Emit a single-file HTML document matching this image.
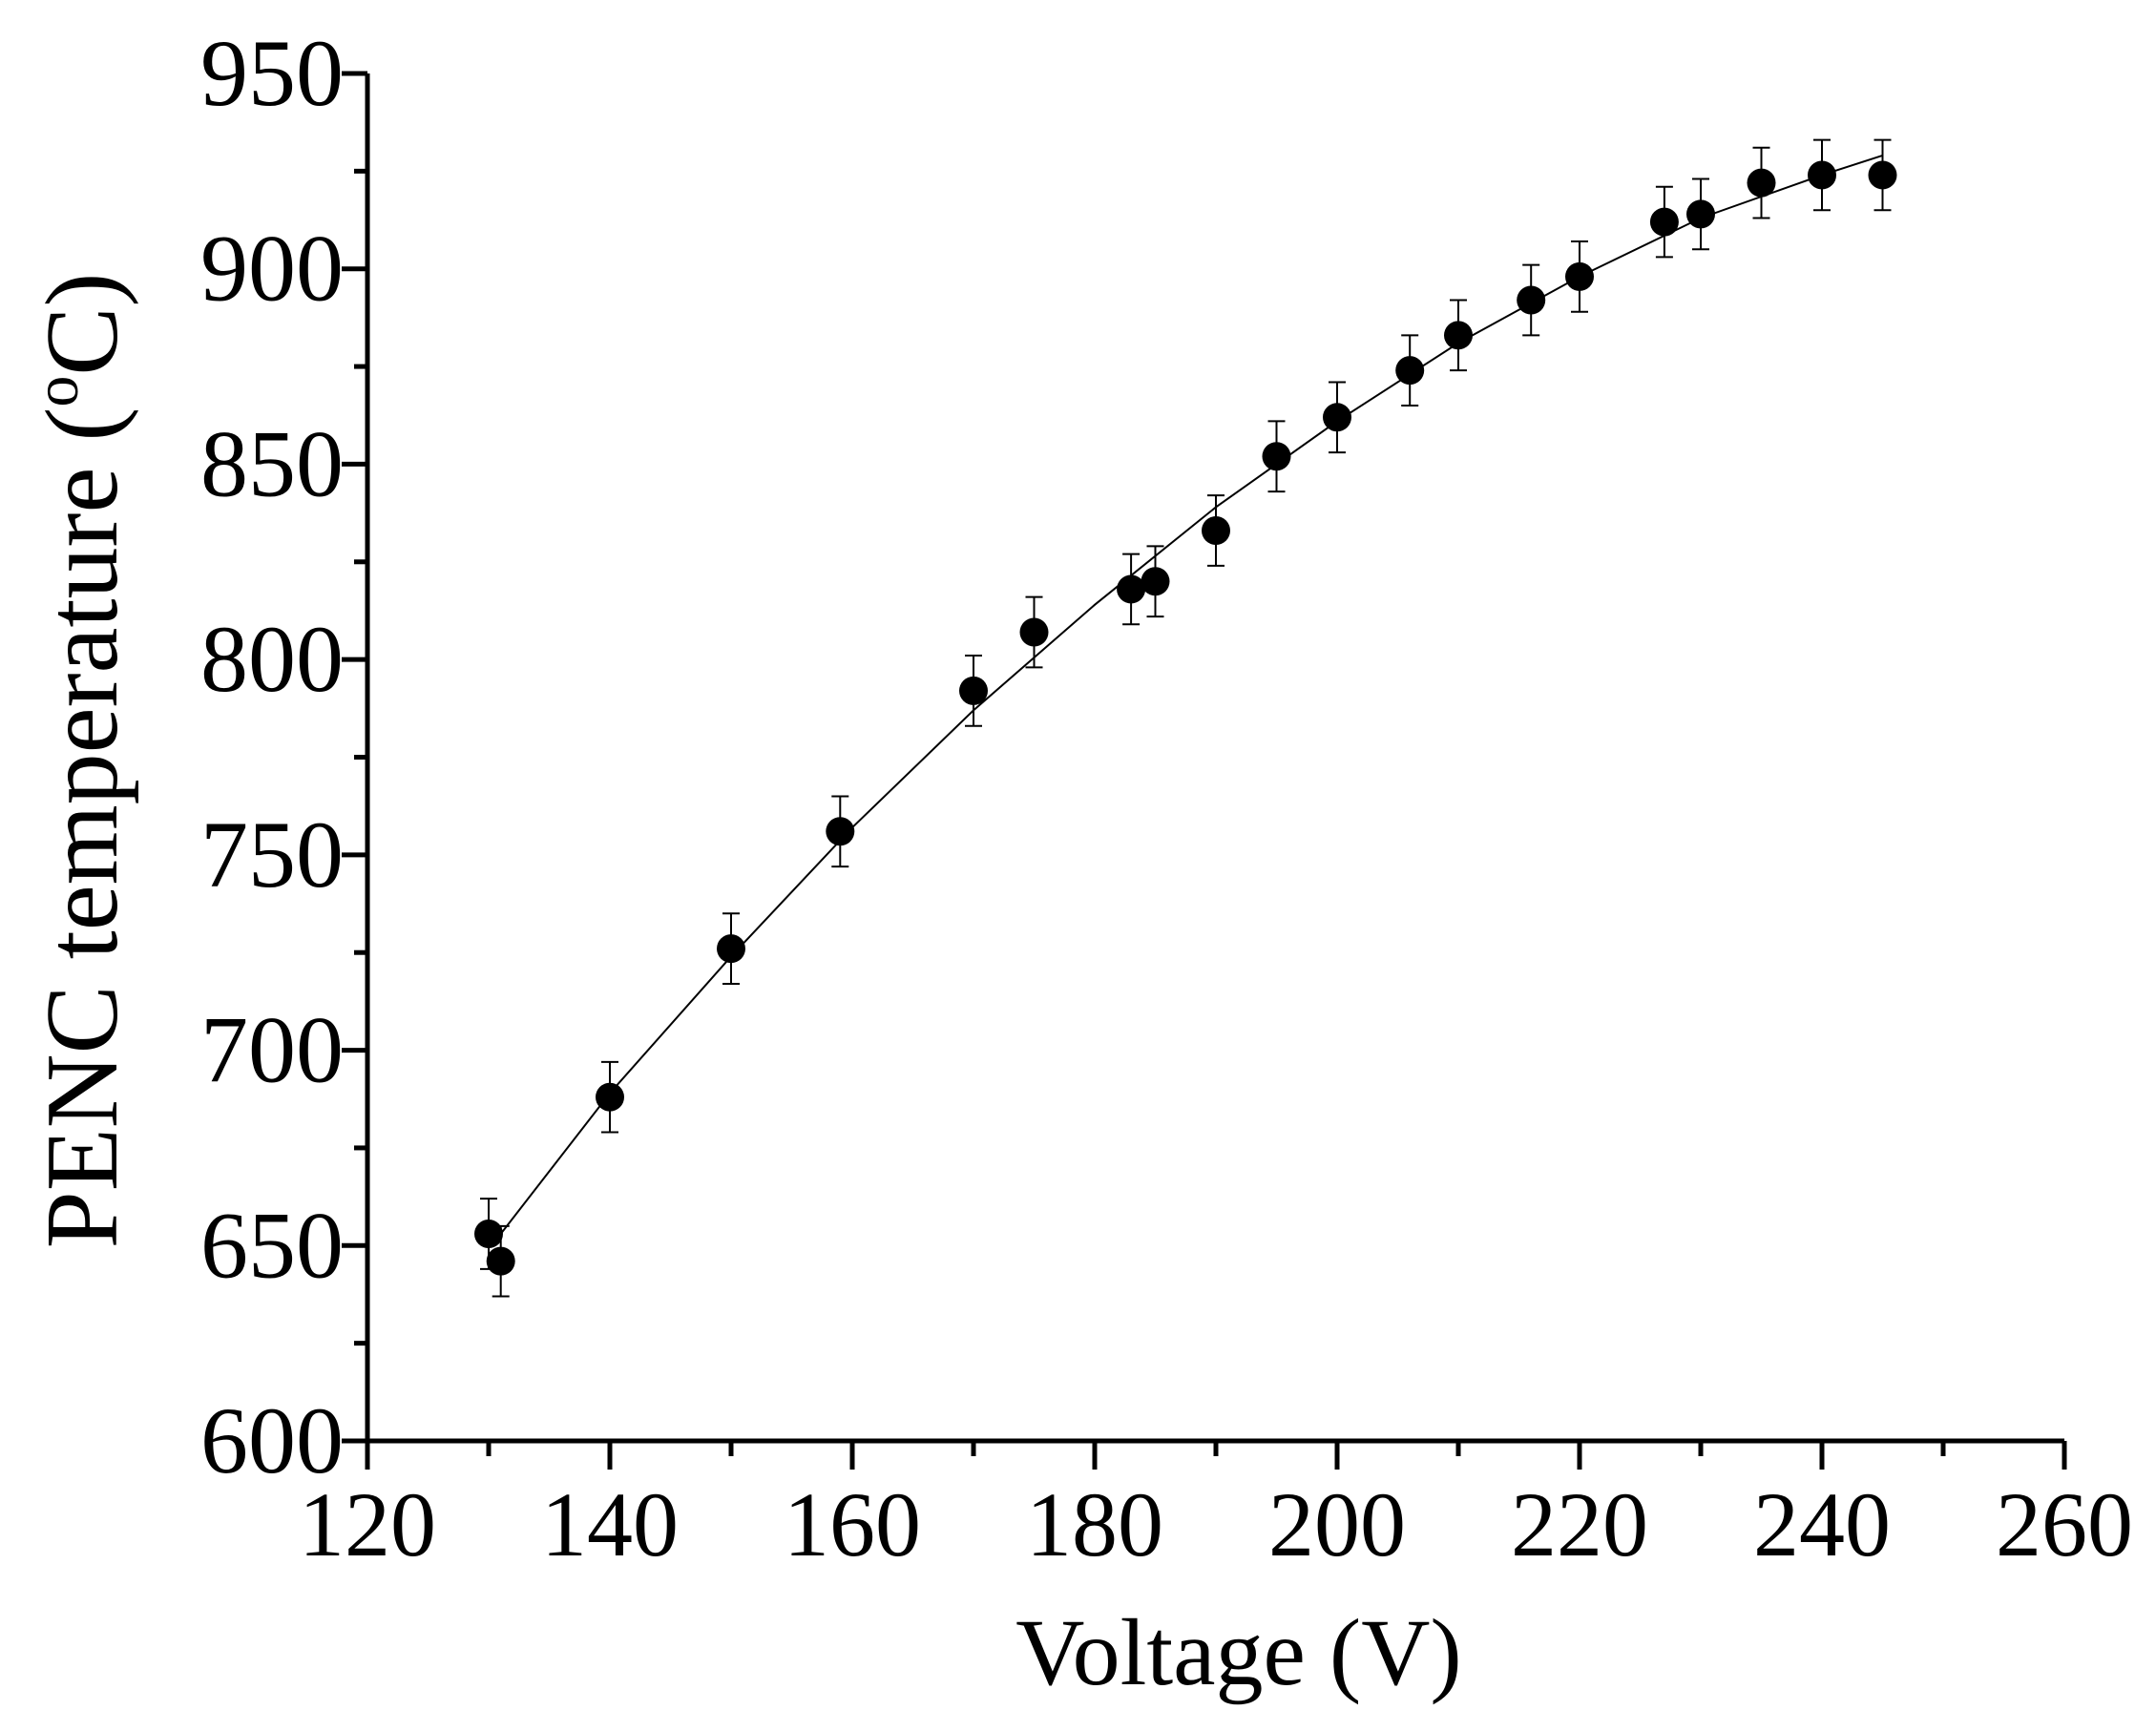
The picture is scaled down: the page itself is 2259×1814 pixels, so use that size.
<!DOCTYPE html>
<html><head><meta charset="utf-8"><style>
html,body{margin:0;padding:0;background:#fff;}
svg{display:block;font-family:"Liberation Serif",serif;}
</style></head><body>
<svg id="chart" width="2259" height="1814" viewBox="0 0 2259 1814" xmlns="http://www.w3.org/2000/svg">
<rect width="2259" height="1814" fill="#fff"/>
<g id="axes"></g>
<g id="fit"></g>
<g id="pts"></g>
<text x="1298" y="1765" font-size="100" text-anchor="middle">Voltage (V)</text>
<text transform="translate(122,797) rotate(-90)" font-size="108" text-anchor="middle">PENC temperature (<tspan font-size="66" dy="-41">o</tspan><tspan dy="41">C)</tspan></text>
</svg>
<script>
const xTicks=[120,140,160,180,200,220,240,260];
const yTicks=[600,650,700,750,800,850,900,950];
const voltages=[130,131,140,150,159,170,175,183,185,190,195,200,206,210,216,220,227,230,235,240,245];
const temps=[653,646,688,726,756,792,807,818,820,833,852,862,874,883,892,898,912,914,922,924,924];
const errs=[9,9,9,9,9,9,9,9,9,9,9,9,9,9,9,9,9,9,9,9,9];
const fitX=[131,140,150,160,170,180,190,200,210,220,230,240,245];
const fitY=[653,689,724,757,787,814,839,861,881,898,913,924,929];
const NS="http://www.w3.org/2000/svg";
const X0=385,X1=2163,Y0=1510,Y1=77;
const sx=v=>X0+(v-120)/(260-120)*(X1-X0);
const sy=v=>Y0-(v-600)/(950-600)*(Y0-Y1);
function mk(tag,attrs,parent){const e=document.createElementNS(NS,tag);for(const k in attrs)e.setAttribute(k,attrs[k]);parent.appendChild(e);return e;}
const ax=document.getElementById('axes');
let l=mk('line',{x1:X0,y1:Y0,x2:X1,y2:Y0,stroke:'#000','stroke-width':5},ax);


l=mk('line',{x1:X0,y1:Y0+2,x2:X0,y2:Y1,stroke:'#000','stroke-width':5},ax);


for(let v=120;v<=260;v+=10){const maj=v%20===0;const t=mk('line',{x1:sx(v),y1:Y0,x2:sx(v),y2:Y0+(maj?30:16),stroke:'#000','stroke-width':5},ax);

}
for(let v=600;v<=950;v+=25){const maj=v%50===0;const t=mk('line',{x1:X0,y1:sy(v),x2:X0-(maj?27:14),y2:sy(v),stroke:'#000','stroke-width':5},ax);

}
xTicks.forEach(v=>{const t=mk('text',{x:sx(v),y:1630,'font-size':96,'text-anchor':'middle'},ax);t.textContent=v;

});
yTicks.forEach(v=>{const t=mk('text',{x:360,y:sy(v)+33,'font-size':100,'text-anchor':'end'},ax);t.textContent=v;

});
const fit=document.getElementById('fit');
const fp=mk('polyline',{points:fitX.map((x,i)=>sx(x)+','+sy(fitY[i])).join(' '),fill:'none',stroke:'#000','stroke-width':2},fit);


const pts=document.getElementById('pts');
voltages.forEach((v,i)=>{const cx=sx(v),t=temps[i],e=errs[i];
const g=mk('g',{},pts);


const yt=sy(t+e),yb=sy(t-e);
mk('line',{x1:cx,y1:yt,x2:cx,y2:yb,stroke:'#000','stroke-width':2},g);
mk('line',{x1:cx-9,y1:yt,x2:cx+9,y2:yt,stroke:'#000','stroke-width':2},g);
mk('line',{x1:cx-9,y1:yb,x2:cx+9,y2:yb,stroke:'#000','stroke-width':2},g);
mk('circle',{cx:cx,cy:sy(t),r:15,fill:'#000'},g);});
</script>
</body></html>
